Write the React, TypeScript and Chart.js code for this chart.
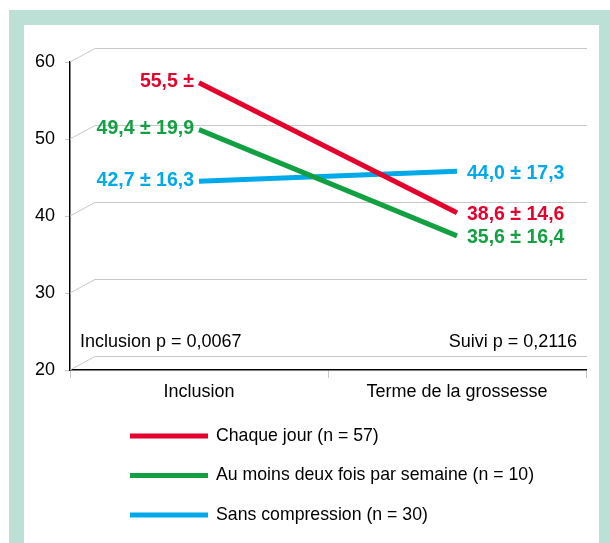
import React, { useEffect, useRef } from 'react';
import { Chart, registerables } from 'chart.js';

Chart.register(...registerables);

// ---- data ----
const categories = ['Inclusion', 'Terme de la grossesse'];
const seriesNames = [
  'Chaque jour (n = 57)',
  'Au moins deux fois par semaine (n = 10)',
  'Sans compression (n = 30)',
];
const chaqueJour = [55.5, 38.6];
const deuxFois = [49.4, 35.6];
const sansCompression = [42.7, 44.0];
const chaqueJourLabels = ['55,5 ±', '38,6 ± 14,6'];
const deuxFoisLabels = ['49,4 ± 19,9', '35,6 ± 16,4'];
const sansCompressionLabels = ['42,7 ± 16,3', '44,0 ± 17,3'];
const yTicks = [20, 30, 40, 50, 60];
const pValueLeft = 'Inclusion p = 0,0067';
const pValueRight = 'Suivi p = 0,2116';

// ---- style ----
const RED = '#e3032d';
const GREEN = '#13a042';
const BLUE = '#00a9e7';
const FRAME = '#bde0d6';
const GRID = '#c8c8c8';
const FONT = "'Liberation Sans', Arial, sans-serif";
const Y_MIN = 20;
const Y_MAX = 60;
const DEPTH_X = 25;
const DEPTH_Y = 14;
const PLOT_H = 308;
const SHIFT = (DEPTH_Y * (Y_MAX - Y_MIN)) / PLOT_H;

const pointLabels = [chaqueJourLabels, deuxFoisLabels, sansCompressionLabels];

const depthPlugin = {
  id: 'depthGrid',
  beforeDatasetsDraw(chart: any) {
    const { ctx, chartArea } = chart;
    const y = chart.scales.y;
    ctx.save();
    ctx.strokeStyle = GRID;
    ctx.lineWidth = 1;
    yTicks.forEach((v) => {
      const py = Math.round(y.getPixelForValue(v));
      ctx.beginPath();
      ctx.moveTo(chartArea.left, py);
      ctx.lineTo(chartArea.left + DEPTH_X, py - DEPTH_Y + 0.5);
      ctx.lineTo(chartArea.right + 1, py - DEPTH_Y + 0.5);
      ctx.stroke();
    });
    ctx.restore();
  },
  afterDatasetsDraw(chart: any) {
    const { ctx, chartArea } = chart;
    ctx.save();
    ctx.font = `bold 19.5px ${FONT}`;
    ctx.textBaseline = 'middle';
    chart.data.datasets.forEach((ds: any, i: number) => {
      const meta = chart.getDatasetMeta(i);
      ctx.fillStyle = ds.borderColor;
      meta.data.forEach((pt: any, j: number) => {
        const txt = pointLabels[i][j];
        if (j === 0) {
          ctx.textAlign = 'right';
          ctx.fillText(txt, pt.x - 5, pt.y - 1);
        } else {
          ctx.textAlign = 'left';
          ctx.fillText(txt, pt.x + 10, pt.y + 2);
        }
      });
    });
    // p-values
    ctx.fillStyle = '#000';
    ctx.font = `18px ${FONT}`;
    ctx.textAlign = 'left';
    ctx.fillText(pValueLeft, chartArea.left + 10, chartArea.bottom - 28);
    ctx.textAlign = 'right';
    ctx.fillText(pValueRight, chartArea.right - 9, chartArea.bottom - 28);
    ctx.restore();
  },
  afterDraw(chart: any) {
    const { ctx, chartArea } = chart;
    ctx.save();
    ctx.font = `17.7px ${FONT}`;
    ctx.textBaseline = 'middle';
    ctx.textAlign = 'left';
    chart.data.datasets.forEach((ds: any, i: number) => {
      const yy = chartArea.bottom + 66 + i * 39.5;
      const x0 = chartArea.left + 60;
      ctx.strokeStyle = ds.borderColor;
      ctx.lineWidth = 5;
      ctx.beginPath();
      ctx.moveTo(x0, yy);
      ctx.lineTo(x0 + 78, yy);
      ctx.stroke();
      ctx.fillStyle = '#000';
      ctx.fillText(ds.label, x0 + 86, yy);
    });
    ctx.restore();
  },
};

export default function App() {
  const ref = useRef<HTMLCanvasElement>(null);
  useEffect(() => {
    if (!ref.current) return;
    Chart.defaults.font.family = FONT;
    const mk = (label: string, data: number[], color: string) => ({
      label,
      data,
      borderColor: color,
      backgroundColor: color,
      borderWidth: 5,
      pointRadius: 0,
      tension: 0,
      borderCapStyle: 'butt',
      yAxisID: 'yd',
      clip: false,
    });
    const chart = new Chart(ref.current, {
      type: 'line',
      data: {
        labels: categories,
        datasets: [
          mk(seriesNames[0], chaqueJour, RED),
          mk(seriesNames[1], deuxFois, GREEN),
          mk(seriesNames[2], sansCompression, BLUE),
        ] as any,
      },
      options: {
        animation: false,
        responsive: false,
        layout: { padding: { left: 0, right: 24, top: 62, bottom: 0 } },
        plugins: { legend: { display: false }, tooltip: { enabled: false } },
        scales: {
          x: {
            offset: true,
            grid: {
              offset: true,
              drawOnChartArea: false,
              drawTicks: true,
              tickLength: 8,
              color: GRID,
            },
            border: { color: '#000', width: 1.5 },
            ticks: { color: '#000', font: { size: 18, family: FONT }, padding: 3, maxRotation: 0 },
            afterFit: (s: any) => {
              s.height = 173;
            },
          },
          y: {
            min: Y_MIN,
            max: Y_MAX,
            grid: { drawOnChartArea: false, drawTicks: true, tickLength: 5, color: GRID },
            border: { color: '#000', width: 1.5 },
            ticks: { stepSize: 10, color: '#000', font: { size: 18, family: FONT }, padding: 10 },
            afterFit: (s: any) => {
              s.width = 70;
            },
          },
          yd: {
            display: false,
            min: Y_MIN - SHIFT,
            max: Y_MAX - SHIFT,
          },
        },
      } as any,
      plugins: [depthPlugin],
    });
    return () => chart.destroy();
  }, []);

  return (
    <>
      <div
        style={{
          position: 'fixed',
          left: 9,
          top: 10,
          width: 605,
          height: 600,
          boxSizing: 'border-box',
          border: `15px solid ${FRAME}`,
          background: '#fff',
        }}
      />
      <canvas
        ref={ref}
        width={610}
        height={543}
        style={{ position: 'fixed', left: 0, top: 0, width: 610, height: 543, zIndex: 1 }}
      />
    </>
  );
}
